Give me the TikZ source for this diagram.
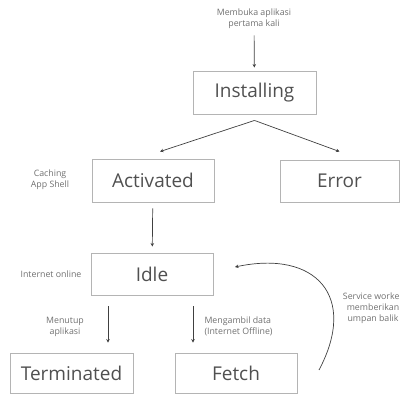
\documentclass[tikz,border=0pt]{standalone}
\usepackage{fontspec}
\setmainfont{Open Sans}
\usepackage{xcolor}
\usepackage{tikz}
\usetikzlibrary{positioning,arrows.meta,calc}

\definecolor{boxline}{HTML}{B4B4B4}
\definecolor{boxtext}{HTML}{505050}
\definecolor{notetext}{HTML}{707070}
\definecolor{arrline}{HTML}{404040}

\begin{document}
\begin{tikzpicture}[x=1pt, y=-1pt, >={Stealth[length=3.5pt,width=3.5pt]},
    state/.style={draw=boxline, line width=0.9pt, minimum width=122pt, minimum height=42pt,
        text=boxtext, font=\fontsize{19}{21}\selectfont},
    note/.style={text=notetext, align=center, font=\fontsize{8.8}{11}\selectfont},
    arr/.style={->, draw=arrline, line width=0.7pt}]

\useasboundingbox (0, 0) rectangle (400, 395);

% States
\node[state, minimum width=123pt, minimum height=43pt] (installing) at (254.5, 92.5) {Installing};
\node[state, minimum height=43pt] (activated) at (153, 180.5) {Activated};
\node[state, minimum width=119pt] (error) at (339.5, 181) {Error};
\node[state] (idle) at (152, 274) {Idle};
\node[state, minimum width=123pt, minimum height=40pt] (terminated) at (71.5, 373) {Terminated};
\node[state, minimum height=40pt] (fetch) at (236, 373) {Fetch};

% Notes
\node[note] (open) at (254, 19) {Membuka aplikasi\\pertama kali};
\node[note] (caching) at (50, 180) {Caching\\App Shell};
\node[note] (online) at (51, 274) {Internet online};
\node[note] (close) at (65, 327) {Menutup\\aplikasi};
\node[note, align=left, anchor=west] (offline) at (201, 326) {Mengambil data\\(Internet Offline)};
\node[note] (feedback) at (373, 308) {Service worker\\memberikan\\umpan balik};

% Transitions
\draw[arr, shorten <=3pt, shorten >=3pt] (open) -- (installing);
\coordinate (split) at ([yshift=-6pt]installing.south);
\draw[arr] (split) -- ([xshift=7pt, yshift=7pt]activated.north);
\draw[arr] (split) -- ([yshift=8pt]error.north);
\draw[arr, shorten <=6pt, shorten >=6pt] (activated) -- (idle);
\draw[arr, shorten <=11pt, shorten >=10pt] ([xshift=-44pt]idle.south) -- ([xshift=-44pt]idle.south |- terminated.north);
\draw[arr, shorten <=11pt, shorten >=10pt] ([xshift=41pt]idle.south) -- ([xshift=41pt]idle.south |- fetch.north);

% Feedback loop
\coordinate (loopstart) at (319, 370);
\coordinate (loopend) at (235, 267);
\draw[arr] (loopstart) to[out=62, in=12, looseness=1.6] (loopend);

\end{tikzpicture}
\end{document}
